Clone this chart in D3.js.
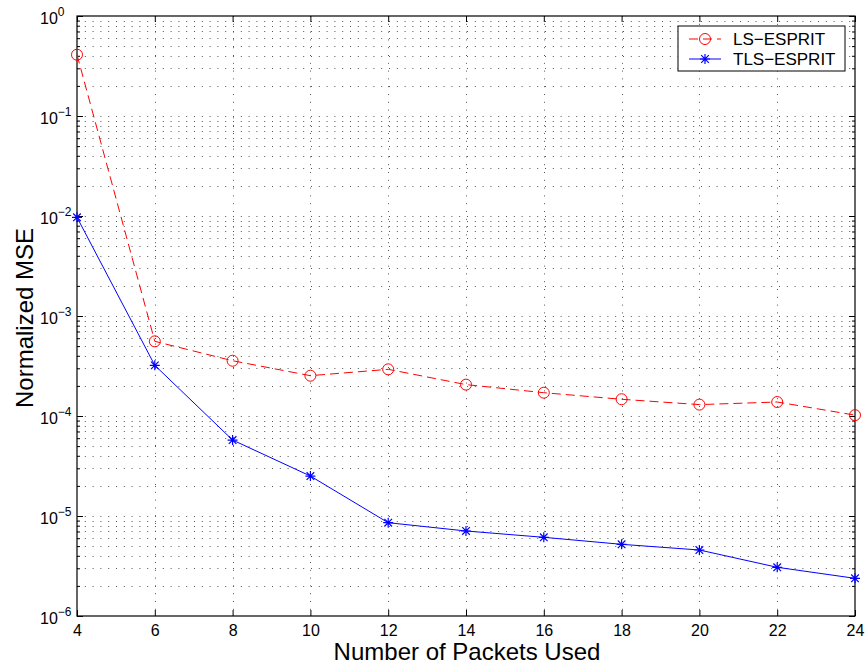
<!DOCTYPE html>
<html><head><meta charset="utf-8">
<script src="https://cdn.jsdelivr.net/npm/d3@7"></script>
<style>body{margin:0;background:#fff}svg{display:block}text{font-family:"Liberation Sans",Arial,sans-serif;fill:#000}</style>
</head><body><svg id="c" width="866" height="670"></svg>
<script>
const packets = [4,6,8,10,12,14,16,18,20,22,24];
const lsEsprit = [0.41,5.58e-4,3.57e-4,2.53e-4,2.93e-4,2.06e-4,1.71e-4,1.47e-4,1.30e-4,1.38e-4,1.02e-4];
const tlsEsprit = [9.7e-3,3.21e-4,5.75e-5,2.51e-5,8.57e-6,7.08e-6,6.12e-6,5.21e-6,4.57e-6,3.07e-6,2.38e-6];
const xTicks = [4,6,8,10,12,14,16,18,20,22,24];
const yExponents = [0,-1,-2,-3,-4,-5,-6];
const seriesNames = ["LS\u2212ESPRIT","TLS\u2212ESPRIT"];

const L=77,R=855,T=16,B=616;
const svg=d3.select("#c");
const x=d3.scaleLinear().domain([4,24]).range([L,R]);
const y=d3.scaleLog().domain([1e-6,1]).range([B,T]);

const grid=svg.append("g").attr("stroke","#555").attr("stroke-width",1).attr("stroke-dasharray","1,6.8");
const yGridVals=[];
for(let e=-6;e<0;e++){for(let m=1;m<=9;m++){yGridVals.push(m*Math.pow(10,e));}}
yGridVals.filter(v=>v>1e-6).forEach(v=>{
  const yy=Math.round(y(v))+0.5;
  grid.append("line").attr("x1",L).attr("x2",R).attr("y1",yy).attr("y2",yy);
});
xTicks.slice(1,-1).forEach(v=>{
  const xx=Math.round(x(v))+0.5;
  grid.append("line").attr("x1",xx).attr("x2",xx).attr("y1",T).attr("y2",B);
});

const axB=svg.append("g").attr("transform",`translate(0,${B})`).call(d3.axisBottom(x).tickValues(xTicks).tickSizeInner(-6).tickSizeOuter(0).tickPadding(9));
svg.append("g").attr("transform",`translate(0,${T})`).call(d3.axisTop(x).tickValues(xTicks).tickSizeInner(-6).tickSizeOuter(0).tickFormat(""));
const yMinor=yGridVals.filter(v=>v>1e-6 && Math.abs(Math.log10(v)-Math.round(Math.log10(v)))>1e-9);
const yMajor=yExponents.map(e=>Math.pow(10,e));
svg.append("g").attr("transform",`translate(${L},0)`).call(d3.axisLeft(y).tickValues(yMajor).tickSizeInner(-6).tickSizeOuter(0).tickFormat(""));
svg.append("g").attr("transform",`translate(${L},0)`).call(d3.axisLeft(y).tickValues(yMinor).tickSizeInner(-3).tickSizeOuter(0).tickFormat(""));
svg.append("g").attr("transform",`translate(${R},0)`).call(d3.axisRight(y).tickValues(yMajor).tickSizeInner(-6).tickSizeOuter(0).tickFormat(""));
svg.append("g").attr("transform",`translate(${R},0)`).call(d3.axisRight(y).tickValues(yMinor).tickSizeInner(-3).tickSizeOuter(0).tickFormat(""));
svg.selectAll(".domain").remove();
svg.selectAll(".tick line").attr("stroke","#000");
axB.selectAll("text").attr("font-size",16).attr("font-family","Liberation Sans, Arial, sans-serif").attr("fill","#000");

yExponents.forEach(e=>{
  const t=svg.append("text").attr("x",40).attr("y",y(Math.pow(10,e))+8).attr("font-size",16);
  t.append("tspan").text("10");
  t.append("tspan").attr("dy",-8).attr("font-size",12).text(e===0?"0":"\u2212"+(-e));
});

svg.append("rect").attr("x",L).attr("y",T).attr("width",R-L).attr("height",B-T).attr("fill","none").attr("stroke","#000").attr("stroke-width",1.2);

const line=d3.line().x((d,i)=>x(packets[i])).y(d=>y(d));
svg.append("path").datum(lsEsprit).attr("d",line).attr("fill","none").attr("stroke","#ff0000").attr("stroke-width",1).attr("stroke-dasharray","9,5");
svg.append("path").datum(tlsEsprit).attr("d",line).attr("fill","none").attr("stroke","#0000ff").attr("stroke-width",1);

function circ(g,cx,cy){g.append("circle").attr("cx",cx).attr("cy",cy).attr("r",5.5).attr("fill","none").attr("stroke","#ff0000").attr("stroke-width",1);}
function star(g,cx,cy){
  const s=5,d=3.8;
  const p=`M${cx-s},${cy}L${cx+s},${cy}M${cx},${cy-s}L${cx},${cy+s}M${cx-d},${cy-d}L${cx+d},${cy+d}M${cx-d},${cy+d}L${cx+d},${cy-d}`;
  g.append("path").attr("d",p).attr("stroke","#0000ff").attr("stroke-width",1.2).attr("fill","none");
}
const mg=svg.append("g");
lsEsprit.forEach((v,i)=>circ(mg,x(packets[i]),y(v)));
tlsEsprit.forEach((v,i)=>star(mg,x(packets[i]),y(v)));

const lg=svg.append("g");
lg.append("rect").attr("x",678).attr("y",26).attr("width",167).attr("height",45).attr("fill","#fff").attr("stroke","#000").attr("stroke-width",1);
lg.append("line").attr("x1",689).attr("x2",721).attr("y1",39).attr("y2",39).attr("stroke","#ff0000").attr("stroke-dasharray","9,5");
circ(lg,705,39);
lg.append("line").attr("x1",689).attr("x2",721).attr("y1",59).attr("y2",59).attr("stroke","#0000ff");
star(lg,705,59);
lg.append("text").attr("x",733).attr("y",45).attr("font-size",17).text(seriesNames[0]);
lg.append("text").attr("x",733).attr("y",65).attr("font-size",17).text(seriesNames[1]);

svg.append("text").attr("x",467).attr("y",660).attr("text-anchor","middle").attr("font-size",24).text("Number of Packets Used");
svg.append("text").attr("transform",`translate(33,318) rotate(-90)`).attr("text-anchor","middle").attr("font-size",24).text("Normalized MSE");
</script></body></html>
